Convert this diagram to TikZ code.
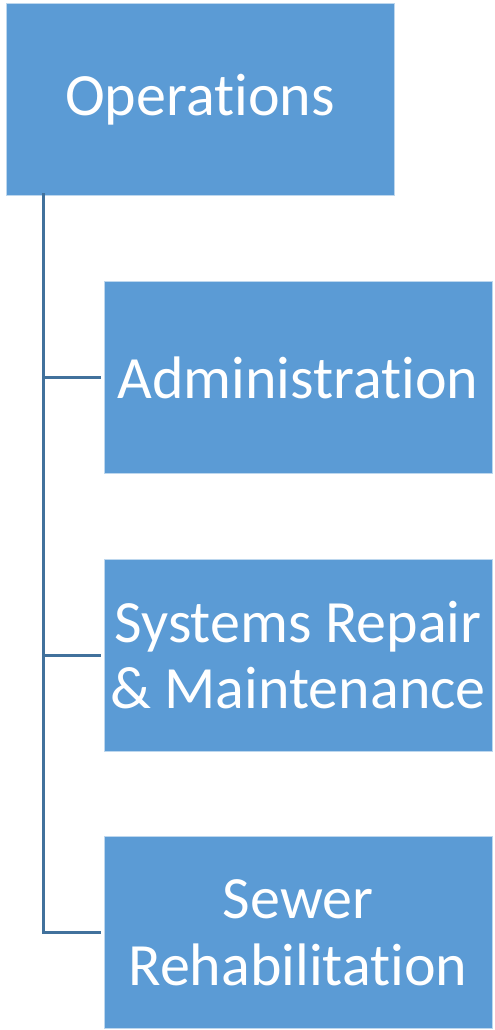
\documentclass[tikz,border=0pt]{standalone}
\usepackage{fontspec}
\setmainfont[RawFeature={-liga;-dlig}]{Carlito}
\usepackage{tikz}
\definecolor{boxblue}{RGB}{91,155,213}
\definecolor{boxedge}{RGB}{189,215,238}
\definecolor{linkblue}{RGB}{65,113,156}

\begin{document}
\begin{tikzpicture}[x=0.75pt,y=0.75pt,yscale=-1,xscale=1]
        \tikzset{
            unit/.style={fill=boxblue, draw=boxedge, line width=0.75pt, text=white, align=center,
                minimum width=291pt, minimum height=144pt, inner sep=0pt,
                font=\fontsize{45}{50}\selectfont},
            link/.style={draw=linkblue, line width=2.25pt}
        }
        \useasboundingbox (0,0) rectangle (494,1030);

        \node [unit] (ops) at (200,100) {Operations};
        \node [unit] (adm) at (298,377.5) {Administration};
        \node [unit] (srm) at (298,655) {Systems Repair\\\& Maintenance};
        \node [unit] (sew) at (298,932.5) {Sewer\\Rehabilitation};

        \coordinate (trunk) at ([xshift=28.5pt,yshift=-2.5pt]ops.south west);
        \draw [link] (trunk) |- ([xshift=-2pt]adm.west);
        \draw [link] (trunk) |- ([xshift=-2pt]srm.west);
        \draw [link] (trunk) |- ([xshift=-2pt]sew.west);
\end{tikzpicture}
\end{document}
